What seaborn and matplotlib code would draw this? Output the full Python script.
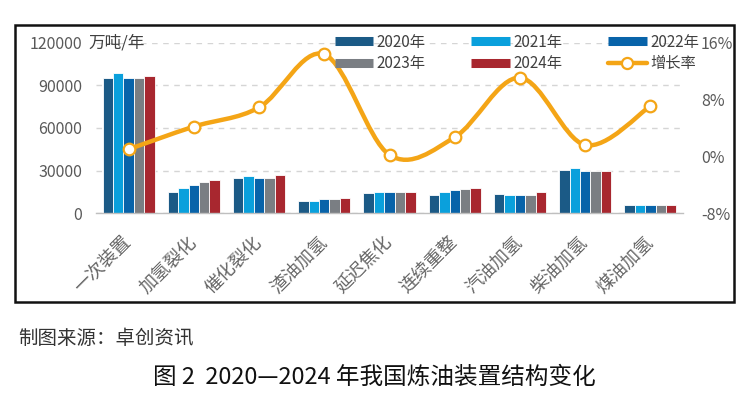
import numpy as np
import pandas as pd
import matplotlib
matplotlib.use('Agg')
import matplotlib.pyplot as plt
import seaborn as sns
from matplotlib.path import Path
from matplotlib.patches import PathPatch, Rectangle
from matplotlib.lines import Line2D

categories = ['一次装置', '加氢裂化', '催化裂化', '渣油加氢', '延迟焦化',
              '连续重整', '汽油加氢', '柴油加氢', '煤油加氢']
years = ['2020年', '2021年', '2022年', '2023年', '2024年']

# capacity, 万吨/年
cap_2020 = [95500, 15000, 24700, 8500, 13900, 12700, 13600, 30600, 5400]
cap_2021 = [98500, 17900, 26100, 8500, 14800, 15000, 12700, 32000, 5400]
cap_2022 = [95500, 19800, 24700, 9900, 14800, 16000, 12700, 29900, 5400]
cap_2023 = [95500, 21900, 24700, 9900, 14800, 16900, 12700, 29900, 5400]
cap_2024 = [97000, 23100, 27000, 10800, 14800, 17900, 14800, 29900, 5400]

# growth rate, %
growth = [1.0, 4.2, 6.9, 14.4, 0.2, 2.7, 11.1, 1.6, 7.1]

left_ticks = [0, 30000, 60000, 90000, 120000]
right_ticks = [-8, 0, 8, 16]

bar_colors = ['#1B5A86', '#0AA0DC', '#0863A9', '#7A7E83', '#A8272F']
line_color = '#F4A516'
grey = '#666666'


def smooth_path(xs, ys):
    # excel-like smoothed line: cubic bezier through every point
    pts = np.column_stack([xs, ys]).astype(float)
    ext = np.vstack([pts[0], pts, pts[-1]])
    verts = [pts[0]]
    codes = [Path.MOVETO]
    for i in range(len(pts) - 1):
        p0, p1, p2, p3 = ext[i], ext[i + 1], ext[i + 2], ext[i + 3]
        c1 = p1 + (p2 - p0) / 6
        c2 = p2 - (p3 - p1) / 6
        verts += [c1, c2, p2]
        codes += [Path.CURVE4] * 3
    return Path(verts, codes)


def main():
    sns.set_style('white')
    plt.rcParams['font.family'] = ['Noto Sans CJK SC', 'DejaVu Sans']

    rows = []
    for year, vals in zip(years, [cap_2020, cap_2021, cap_2022, cap_2023, cap_2024]):
        for cat, v in zip(categories, vals):
            rows.append({'装置': cat, '年份': year, '产能': v})
    df = pd.DataFrame(rows)

    fig = plt.figure(figsize=(7.48, 3.95), dpi=100)
    ax = fig.add_axes([96 / 748, 1 - 213 / 395, 587 / 748, 170 / 395])

    sns.barplot(data=df, x='装置', y='产能', hue='年份', order=categories,
                hue_order=years, palette=bar_colors, width=0.8,
                edgecolor='white', linewidth=0.6, saturation=1,
                legend=False, ax=ax)

    ax.set_ylim(0, 120000)
    ax.set_xlim(-0.5, len(categories) - 0.5)
    ax.set_yticks(left_ticks)
    ax.set_yticklabels([str(t) for t in left_ticks])
    ax.yaxis.grid(True, color='#D5D5D5', linestyle=(0, (4, 4)), linewidth=1)
    ax.set_axisbelow(True)
    ax.set_xlabel('')
    ax.set_ylabel('')
    for s in ['top', 'left', 'right']:
        ax.spines[s].set_visible(False)
    ax.spines['bottom'].set_color('#BFBFBF')
    ax.spines['bottom'].set_linewidth(1)
    ax.tick_params(axis='y', length=0, pad=10, labelsize=11.5, labelcolor='#595959')
    ax.set_xticks(range(len(categories)))
    ax.set_xticklabels(categories, rotation=45, ha='right', va='center',
                       rotation_mode='anchor', fontsize=13, color=grey)
    ax.tick_params(axis='x', length=0, pad=19)
    ax.set_xticks(np.arange(-0.5, len(categories)), minor=True)
    ax.tick_params(axis='x', which='minor', length=5, color='#BFBFBF', width=1)

    ax2 = ax.twinx()
    ax2.set_ylim(-8, 16)
    ax2.set_yticks(right_ticks)
    ax2.set_yticklabels([f'{t}%' for t in right_ticks])
    ax2.tick_params(axis='y', length=0, pad=13, labelsize=11.5, labelcolor='#595959')
    for s in ax2.spines.values():
        s.set_visible(False)

    xs = np.arange(len(categories))
    ax2.add_patch(PathPatch(smooth_path(xs, growth), facecolor='none',
                            edgecolor=line_color, lw=3.2, capstyle='round'))
    sns.scatterplot(x=xs, y=growth, ax=ax2, s=70, color='white',
                    edgecolor=line_color, linewidth=1.6, zorder=5)

    fig.text(88 / 748, 1 - 43 / 395, '万吨/年', fontsize=12, color='#404040',
             va='center', ha='left')

    handles = [Line2D([], [], color=c, lw=6.5, solid_capstyle='butt') for c in bar_colors]
    handles.append(Line2D([], [], color=line_color, lw=3.2, marker='o', ms=8,
                          mfc='white', mec=line_color, mew=1.6))
    labels = years + ['增长率']
    order = [0, 3, 1, 4, 2, 5]
    fig.legend([handles[i] for i in order], [labels[i] for i in order],
               ncol=3, loc='upper left', bbox_to_anchor=(327 / 748, 1 - 26 / 395),
               frameon=False, fontsize=11, handlelength=2.5, handletextpad=0.25,
               columnspacing=3.0, labelspacing=0.3, borderpad=0,
               labelcolor='#404040')

    fig.patches.append(Rectangle((15 / 748, 1 - 302 / 395), 719 / 748, 277 / 395,
                                 transform=fig.transFigure, fill=False,
                                 edgecolor='#111111', linewidth=1.8))

    fig.text(18 / 748, 1 - 338 / 395, '制图来源：卓创资讯', fontsize=14,
             color='#333333', va='center', ha='left')
    fig.text(0.5, 1 - 377 / 395, '图 2  2020—2024 年我国炼油装置结构变化',
             fontsize=17, color='#111111', va='center', ha='center')

    fig.savefig('out.png', dpi=100)


if __name__ == '__main__':
    main()
